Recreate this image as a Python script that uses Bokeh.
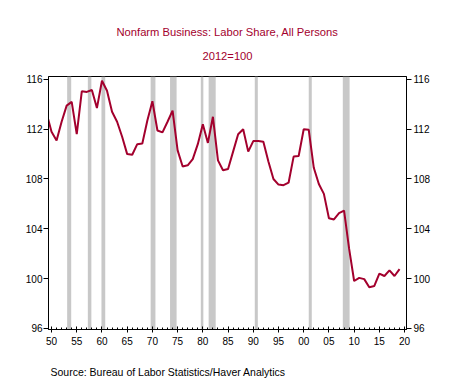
from bokeh.plotting import figure
from bokeh.models import (Range1d, LinearAxis, FixedTicker, BoxAnnotation, Title,
                          ColumnDataSource)
from bokeh.embed import file_html
from bokeh.resources import INLINE

years = list(range(1949, 2020))
labor_share = [
    113.3, 111.8, 111.1, 112.6, 113.9, 114.2, 111.6, 115.05, 115.0, 115.15,
    113.7, 115.9, 115.1, 113.4, 112.6, 111.4, 110.0, 109.95, 110.8, 110.85,
    112.7, 114.25, 111.9, 111.75, 112.6, 113.5, 110.3, 109.0, 109.1, 109.6,
    110.8, 112.4, 110.9, 113.0, 109.5, 108.7, 108.8, 110.2, 111.6, 112.0,
    110.2, 111.05, 111.05, 111.0, 109.4, 108.0, 107.55, 107.5, 107.7, 109.8,
    109.85, 112.0, 111.95, 108.9, 107.6, 106.8, 104.85, 104.75, 105.25, 105.45,
    102.4, 99.8, 100.05, 99.95, 99.3, 99.4, 100.4, 100.2, 100.65, 100.2,
    100.75,
]
recession_start = [1953.1, 1957.2, 1959.9, 1969.65, 1973.5, 1979.6, 1981.15, 1990.3, 2001.0, 2007.75]
recession_end = [1953.9, 1957.9, 1960.65, 1970.6, 1974.8, 1980.1, 1982.55, 1990.9, 2001.6, 2009.1]

xtick_values = list(range(1950, 2021, 5))
xtick_labels = ["50", "55", "60", "65", "70", "75", "80", "85", "90", "95",
                "00", "05", "10", "15", "20"]
ytick_values = [96, 100, 104, 108, 112, 116]

title_text = "Nonfarm Business: Labor Share, All Persons"
subtitle_text = "2012=100"
source_text = "Source:  Bureau of Labor Statistics/Haver Analytics"

RED = "#a3002d"
FONT = "Liberation Sans"

p = figure(width=456, height=379, title=None,
           x_range=Range1d(1949.4, 2020.38), y_range=Range1d(95.9, 116.24),
           output_backend="svg", toolbar_location=None,
           min_border_left=48, min_border_right=50, min_border_top=76, min_border_bottom=50)

p.xgrid.visible = False
p.ygrid.visible = False
p.outline_line_color = "black"
p.outline_line_width = 1
p.background_fill_color = "white"
p.border_fill_color = "white"

for s, e in zip(recession_start, recession_end):
    p.add_layout(BoxAnnotation(left=s, right=e, fill_color="#c8c8c8", fill_alpha=1.0,
                               line_color=None, level="underlay"))

src = ColumnDataSource(dict(year=years, val=labor_share))
p.line("year", "val", source=src, line_color=RED, line_width=2)

# x axis
xa = p.xaxis[0]
xa.ticker = FixedTicker(ticks=xtick_values, minor_ticks=list(range(1950, 2021)))
xa.major_label_overrides = {v: l for v, l in zip(xtick_values, xtick_labels)}
xa.major_tick_in = 3
xa.major_tick_out = 3
xa.minor_tick_in = 2
xa.minor_tick_out = 0
xa.major_label_standoff = 4

ya = p.yaxis[0]
ya.ticker = FixedTicker(ticks=ytick_values)
ya.major_tick_in = 0
ya.major_tick_out = 5
ya.minor_tick_in = 0
ya.minor_tick_out = 0
ya.major_label_standoff = 1

yr = LinearAxis(ticker=FixedTicker(ticks=ytick_values))
yr.major_tick_in = 0
yr.major_tick_out = 5
yr.minor_tick_in = 0
yr.minor_tick_out = 0
yr.major_label_standoff = 2
p.add_layout(yr, "right")

for ax in [xa, ya, yr]:
    ax.axis_line_color = "black"
    ax.major_tick_line_color = "black"
    ax.minor_tick_line_color = "black"
    ax.major_label_text_font = FONT
    ax.major_label_text_font_size = "10px"
    ax.major_label_text_color = "black"

p.add_layout(Title(text=subtitle_text, align="center", vertical_align="top", text_font=FONT,
                   text_font_size="11.2px", text_font_style="normal", text_color=RED,
                   standoff=25), "above")
p.add_layout(Title(text=title_text, align="center", vertical_align="bottom", text_font=FONT,
                   text_font_size="11.2px", text_font_style="normal", text_color=RED,
                   standoff=0), "above")
p.add_layout(Title(text="\n" + source_text, align="left", vertical_align="bottom", text_font=FONT,
                   text_font_size="10.5px", text_font_style="normal", text_color="black",
                   text_line_height=1.38, standoff=0, offset=2), "below")

open("out.html", "w").write(file_html(p, INLINE))
